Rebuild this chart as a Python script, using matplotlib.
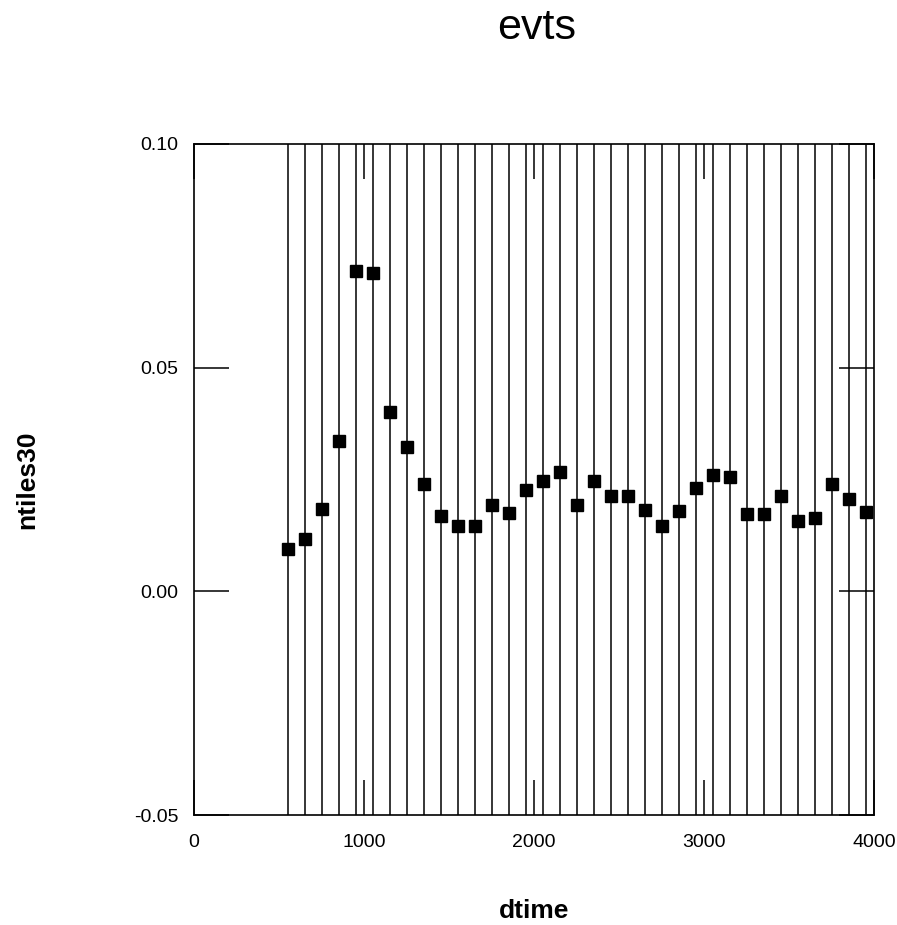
import matplotlib
matplotlib.use('Agg')
import matplotlib.pyplot as plt
import numpy as np

plt.rcParams['font.family'] = ['Liberation Sans', 'DejaVu Sans']

# data
dtime    = [550, 650, 750, 850, 950, 1050, 1150, 1250, 1350, 1450,
            1550, 1650, 1750, 1850, 1950, 2050, 2150, 2250, 2350, 2450,
            2550, 2650, 2750, 2850, 2950, 3050, 3150, 3250, 3350, 3450,
            3550, 3650, 3750, 3850, 3950]
ntiles30 = [0.0095, 0.0117, 0.0184, 0.0336, 0.0717, 0.0712, 0.0401, 0.0323, 0.0240, 0.0169,
            0.0146, 0.0146, 0.0193, 0.0176, 0.0227, 0.0247, 0.0267, 0.0193, 0.0247, 0.0213,
            0.0213, 0.0182, 0.0146, 0.0180, 0.0231, 0.0260, 0.0256, 0.0173, 0.0173, 0.0213,
            0.0158, 0.0164, 0.0240, 0.0207, 0.0178]
xticks     = [0, 1000, 2000, 3000, 4000]
yticks     = [-0.05, 0.00, 0.05, 0.10]
ytick_text = ['-0.05', '0.00', '0.05', '0.10']

fig = plt.figure(figsize=(8.97, 9.25), dpi=100)
ax = fig.add_axes([194/897, 1-815/925, 680/897, 671/925])

ymin, ymax = -0.05, 0.10
# needle lines across the whole plot height
ax.vlines(dtime, ymin, ymax, colors='black', linewidth=1.1)
ax.plot(dtime, ntiles30, 's', color='black', markersize=8)

ax.set_xlim(0, 4000)
ax.set_ylim(ymin, ymax)
ax.set_xticks(xticks)
ax.set_yticks(yticks)
ax.set_yticklabels(ytick_text)
ax.tick_params(direction='in', length=25, width=1.1, labelsize=14,
               top=True, right=True, pad=11, color='black')
ax.tick_params(axis='x', pad=14)
for sp in ax.spines.values():
    sp.set_linewidth(1.2)

ax.set_xlabel('dtime', fontsize=19, fontweight='bold', va='baseline')
ax.xaxis.set_label_coords(0.5, (815-918)/671)
ax.set_ylabel('ntiles30', fontsize=19, fontweight='bold', va='center')
ax.yaxis.set_label_coords((27-194)/680, 0.5)

fig.text(537/897, 1-39/925, 'evts', ha='center', va='baseline', fontsize=31)

fig.savefig('out.png', dpi=100)
